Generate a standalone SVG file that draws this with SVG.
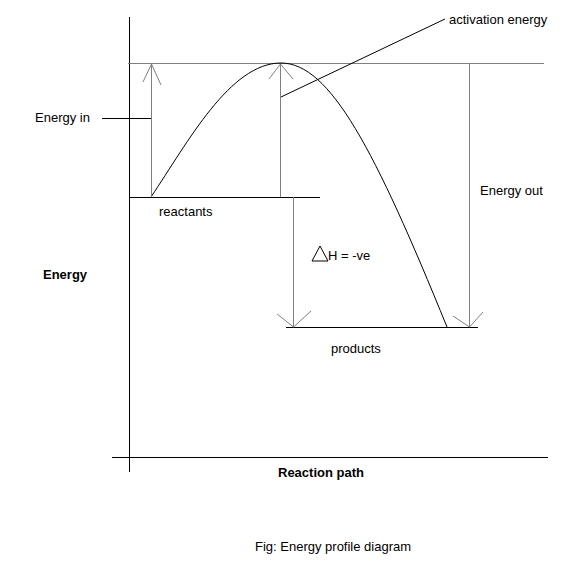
<svg xmlns="http://www.w3.org/2000/svg" width="586" height="562" viewBox="0 0 586 562">
<style>
text{font-family:"Liberation Sans",Arial,sans-serif;font-size:13px;fill:#000}
.b{font-weight:bold}
.k{stroke:#000;stroke-width:1;fill:none}
.g{stroke:#808080;stroke-width:1;fill:none}
</style>
<rect width="586" height="562" fill="#fff"/>
<g id="axes">
<line class="k" x1="129.5" y1="17" x2="129.5" y2="472"/>
<line class="k" x1="112" y1="457.5" x2="548" y2="457.5"/>
</g>
<g id="levels">
<line class="g" x1="128" y1="63.5" x2="544" y2="63.5"/>
<line class="k" x1="129" y1="197.5" x2="320" y2="197.5"/>
<line class="k" x1="286" y1="327.5" x2="478" y2="327.5"/>
</g>
<g id="curve">
<path class="k" d="M151,197 C188,142 230,63 281,63 C330,63 375,150 447,327"/>
</g>
<g id="connectors">
<line class="k" x1="102" y1="118.5" x2="151" y2="118.5"/>
<line class="k" x1="281" y1="97" x2="445" y2="19"/>
<line class="g" x1="151.5" y1="197" x2="151.5" y2="64"/>
<polyline class="g" points="143,82 151.5,64 161,85"/>
<line class="g" x1="280.5" y1="197" x2="280.5" y2="64"/>
<polyline class="g" points="269,79 280.5,64 293,79"/>
<line class="g" x1="293.5" y1="197" x2="293.5" y2="327"/>
<polyline class="g" points="277,314 293.5,327 311,311"/>
<line class="g" x1="469.5" y1="63" x2="469.5" y2="327"/>
<polyline class="g" points="453,316 469.5,327 483,312"/>
</g>
<g id="labels">
<text x="449" y="24">activation energy</text>
<text x="35" y="122">Energy in</text>
<text x="159" y="216">reactants</text>
<text class="b" x="43" y="279">Energy</text>
<text x="480" y="195">Energy out</text>
<polygon class="k" points="312,261 328,261 320,246"/>
<text x="328" y="260">H = -ve</text>
<text x="331" y="353">products</text>
<text class="b" x="278" y="477">Reaction path</text>
<text x="255" y="551">Fig: Energy profile diagram</text>
</g>
</svg>
